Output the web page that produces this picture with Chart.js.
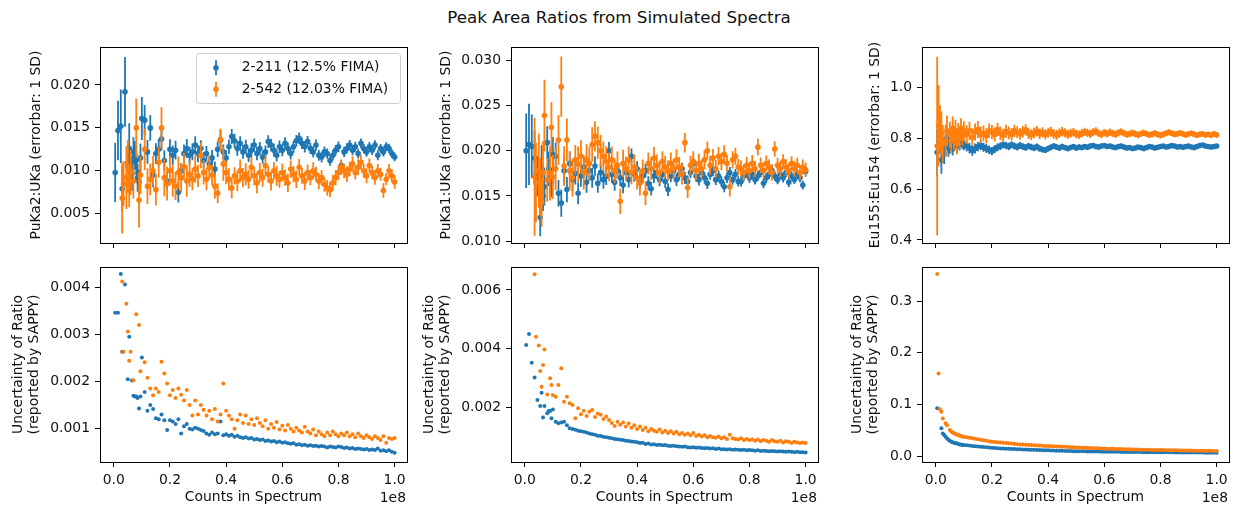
<!DOCTYPE html>
<html>
<head>
<meta charset="utf-8">
<script src="https://cdn.jsdelivr.net/npm/chart.js@4.4.1/dist/chart.umd.min.js"></script>
<style>
  html, body { margin: 0; padding: 0; background: #fff; }
  body { width: 1233px; height: 506px; position: relative; overflow: hidden; font-family: 'DejaVu Sans', sans-serif; }
  canvas { position: absolute; }
  #title { position: absolute; top: 7px; left: 0; width: 1238px; text-align: center; font-size: 16.7px; line-height: 20px; color: #111; }
</style>
</head>
<body>
<div id="title">Peak Area Ratios from Simulated Spectra</div>
<canvas id="p1t"></canvas>
<canvas id="p2t"></canvas>
<canvas id="p3t"></canvas>
<canvas id="p1b"></canvas>
<canvas id="p2b"></canvas>
<canvas id="p3b"></canvas>
<script>
// counts in spectrum, in millions
const countsM = [
  0.5, 1, 1.5, 2, 2.5, 3, 3.5, 4, 4.5, 5,
  5.5, 6, 6.5, 7, 7.5, 8, 8.5, 9, 9.5, 10,
  11, 12, 13, 14, 15, 16, 17, 18, 19, 20,
  21, 22, 23, 24, 25, 26, 27, 28, 29, 30,
  31, 32, 33, 34, 35, 36, 37, 38, 39, 40,
  41, 42, 43, 44, 45, 46, 47, 48, 49, 50,
  51, 52, 53, 54, 55, 56, 57, 58, 59, 60,
  61, 62, 63, 64, 65, 66, 67, 68, 69, 70,
  71, 72, 73, 74, 75, 76, 77, 78, 79, 80,
  81, 82, 83, 84, 85, 86, 87, 88, 89, 90,
  91, 92, 93, 94, 95, 96, 97, 98, 99, 100
];

const seriesLabels = ['2-211 (12.5% FIMA)', '2-542 (12.03% FIMA)'];

// PuKa2:UKa
const puKa2BlueRatio = [
  0.0098, null, 0.0147, null, 0.0152, 0.0079, null, 0.0192, null, 0.0109,
  0.0126, null, 0.0097, 0.0122, 0.0118, 0.0112, 0.0092, 0.0087, 0.0115, 0.0161,
  0.0159, 0.0122, 0.0150, 0.0095, 0.0120, 0.0125, 0.0137, 0.0112, 0.0088, 0.0125,
  0.0118, 0.0124, 0.0075, 0.0100, 0.0120, 0.0126, 0.0118, 0.0122, 0.0130, 0.0120,
  0.0126, 0.0112, 0.0120, 0.0108, 0.0115, 0.0102, 0.0125, 0.0136, 0.0122, 0.0115,
  0.0128, 0.0140, 0.0135, 0.0126, 0.0132, 0.0122, 0.0128, 0.0118, 0.0124, 0.0130,
  0.0120, 0.0126, 0.0116, 0.0122, 0.0134, 0.0130, 0.0124, 0.0118, 0.0128, 0.0124,
  0.0132, 0.0126, 0.0120, 0.0128, 0.0135, 0.0138, 0.0132, 0.0128, 0.0134, 0.0126,
  0.0122, 0.0130, 0.0118, 0.0116, 0.0122, 0.0120, 0.0112, 0.0118, 0.0124, 0.0128,
  0.0106, 0.0122, 0.0126, 0.0130, 0.0124, 0.0128, 0.0120, 0.0132, 0.0126, 0.0122,
  0.0128, 0.0124, 0.0130, 0.0118, 0.0126, 0.0122, 0.0128, 0.0126, 0.0120, 0.0116
];
const puKa2BlueUnc = [
  0.00346, null, 0.00346, null, 0.00428, 0.00263, null, 0.00406, null, 0.00205,
  0.00295, null, 0.00202, 0.00170, 0.00168, 0.00168, 0.00165, 0.00143, 0.00168, 0.00251,
  0.00178, 0.00138, 0.00150, 0.00142, 0.00122, 0.00120, 0.00130, 0.00118, 0.00097, 0.00118,
  0.00115, 0.00110, 0.00120, 0.00090, 0.00105, 0.00110, 0.00100, 0.00098, 0.00102, 0.00100,
  0.00097, 0.00095, 0.00090, 0.00087, 0.00092, 0.00088, 0.00090, 0.00115, 0.00086, 0.00088,
  0.00085, 0.00087, 0.00083, 0.00085, 0.00082, 0.00080, 0.00082, 0.00079, 0.00080, 0.00077,
  0.00078, 0.00076, 0.00077, 0.00074, 0.00075, 0.00073, 0.00074, 0.00071, 0.00073, 0.00070,
  0.00071, 0.00069, 0.00068, 0.00069, 0.00066, 0.00067, 0.00065, 0.00066, 0.00064, 0.00065,
  0.00063, 0.00064, 0.00062, 0.00063, 0.00062, 0.00060, 0.00062, 0.00061, 0.00060, 0.00062,
  0.00061, 0.00059, 0.00060, 0.00058, 0.00059, 0.00057, 0.00058, 0.00057, 0.00056, 0.00057,
  0.00055, 0.00056, 0.00055, 0.00058, 0.00053, 0.00054, 0.00052, 0.00054, 0.00051, 0.00049
];
const puKa2OrangeRatio = [
  null, null, null, null, null, 0.0068, 0.0085, null, 0.0092, 0.0105,
  0.0082, 0.0098, null, 0.0088, null, 0.0150, null, 0.0066, 0.0095, null,
  0.0125, 0.0082, 0.0090, 0.0100, 0.0078, 0.0110, 0.0150, 0.0092, 0.0085, 0.0100,
  0.0088, 0.0082, 0.0098, 0.0092, 0.0105, 0.0088, 0.0096, 0.0090, 0.0102, 0.0094,
  0.0118, 0.0098, 0.0090, 0.0104, 0.0095, 0.0082, 0.0074, 0.0136, 0.0108, 0.0098,
  0.0090, 0.0080, 0.0094, 0.0088, 0.0100, 0.0092, 0.0096, 0.0090, 0.0104, 0.0094,
  0.0086, 0.0098, 0.0092, 0.0106, 0.0096, 0.0088, 0.0100, 0.0094, 0.0090, 0.0098,
  0.0092, 0.0086, 0.0102, 0.0096, 0.0090, 0.0104, 0.0094, 0.0088, 0.0098, 0.0092,
  0.0100, 0.0096, 0.0088, 0.0092, 0.0084, 0.0080, 0.0078, 0.0086, 0.0092, 0.0098,
  0.0104, 0.0100, 0.0096, 0.0102, 0.0108, 0.0098, 0.0104, 0.0110, 0.0100, 0.0094,
  0.0106, 0.0098, 0.0092, 0.0100, 0.0096, 0.0077, 0.0090, 0.0100, 0.0094, 0.0087
];
const puKa2OrangeUnc = [
  null, null, null, null, null, 0.00412, 0.00263, null, 0.00365, 0.00306,
  0.00244, 0.00263, null, 0.00203, null, 0.00343, null, 0.00320, 0.00222, null,
  0.00241, 0.00208, 0.00185, 0.00171, 0.00185, 0.00178, 0.00242, 0.00217, 0.00196, 0.00171,
  0.00182, 0.00165, 0.00185, 0.00172, 0.00160, 0.00182, 0.00150, 0.00128, 0.00160, 0.00130,
  0.00150, 0.00140, 0.00128, 0.00138, 0.00120, 0.00142, 0.00115, 0.00130, 0.00196, 0.00138,
  0.00128, 0.00120, 0.00100, 0.00118, 0.00130, 0.00112, 0.00128, 0.00110, 0.00120, 0.00108,
  0.00122, 0.00112, 0.00105, 0.00118, 0.00100, 0.00110, 0.00102, 0.00114, 0.00098, 0.00106,
  0.00096, 0.00108, 0.00100, 0.00094, 0.00102, 0.00096, 0.00092, 0.00104, 0.00094, 0.00090,
  0.00098, 0.00086, 0.00094, 0.00088, 0.00084, 0.00092, 0.00086, 0.00094, 0.00088, 0.00084,
  0.00090, 0.00086, 0.00092, 0.00084, 0.00088, 0.00082, 0.00090, 0.00084, 0.00080, 0.00086,
  0.00082, 0.00078, 0.00084, 0.00080, 0.00076, 0.00084, 0.00070, 0.00080, 0.00078, 0.00080
];

// PuKa1:UKa
const puKa1BlueRatio = [
  0.0200, null, 0.0207, null, 0.0205, null, 0.0192, null, 0.0172, null,
  0.0126, 0.0181, 0.0150, 0.0160, null, 0.0209, 0.0180, 0.0171, 0.0165, 0.0196,
  0.0194, 0.0153, 0.0142, 0.0178, 0.0157, 0.0186, 0.0168, 0.0175, 0.0153, 0.0172,
  0.0182, 0.0165, 0.0178, 0.0170, 0.0183, 0.0164, 0.0176, 0.0168, 0.0172, 0.0200,
  0.0174, 0.0165, 0.0178, 0.0170, 0.0162, 0.0176, 0.0168, 0.0194, 0.0174, 0.0180,
  0.0166, 0.0172, 0.0178, 0.0164, 0.0158, 0.0172, 0.0176, 0.0168, 0.0174, 0.0166,
  0.0157, 0.0172, 0.0178, 0.0168, 0.0174, 0.0180, 0.0170, 0.0166, 0.0176, 0.0186,
  0.0172, 0.0168, 0.0176, 0.0170, 0.0164, 0.0174, 0.0178, 0.0168, 0.0172, 0.0166,
  0.0160, 0.0170, 0.0176, 0.0168, 0.0174, 0.0166, 0.0166, 0.0172, 0.0176, 0.0170,
  0.0174, 0.0168, 0.0172, 0.0176, 0.0164, 0.0170, 0.0174, 0.0178, 0.0172, 0.0168,
  0.0174, 0.0170, 0.0176, 0.0165, 0.0172, 0.0168, 0.0174, 0.0170, 0.0162, 0.0177
];
const puKa1BlueUnc = [
  0.00413, null, 0.00450, null, 0.00353, null, 0.00303, null, 0.00226, null,
  0.00206, 0.00251, 0.00167, 0.00206, null, 0.00181, 0.00189, 0.00189, 0.00164, 0.00194,
  0.00152, 0.00147, 0.00150, 0.00152, 0.00140, 0.00130, 0.00128, 0.00125, 0.00122, 0.00120,
  0.00118, 0.00116, 0.00112, 0.00110, 0.00108, 0.00105, 0.00104, 0.00101, 0.00100, 0.00098,
  0.00096, 0.00094, 0.00093, 0.00091, 0.00090, 0.00088, 0.00087, 0.00085, 0.00084, 0.00083,
  0.00080, 0.00081, 0.00077, 0.00078, 0.00075, 0.00076, 0.00073, 0.00074, 0.00072, 0.00073,
  0.00071, 0.00070, 0.00071, 0.00069, 0.00068, 0.00067, 0.00068, 0.00066, 0.00065, 0.00066,
  0.00064, 0.00065, 0.00063, 0.00062, 0.00063, 0.00061, 0.00062, 0.00060, 0.00061, 0.00059,
  0.00059, 0.00058, 0.00059, 0.00057, 0.00058, 0.00057, 0.00056, 0.00057, 0.00055, 0.00056,
  0.00055, 0.00054, 0.00055, 0.00053, 0.00054, 0.00053, 0.00052, 0.00053, 0.00052, 0.00051,
  0.00052, 0.00051, 0.00050, 0.00051, 0.00050, 0.00049, 0.00050, 0.00049, 0.00049, 0.00048
];
const puKa1OrangeRatio = [
  null, null, null, null, null, null, 0.0171, 0.0165, null, 0.0178,
  0.0160, 0.0143, 0.0176, 0.0239, null, 0.0168, null, 0.0175, 0.0226, 0.0171,
  0.0180, 0.0212, 0.0271, 0.0183, 0.0212, 0.0178, 0.0170, 0.0190, 0.0185, 0.0194,
  0.0176, 0.0190, 0.0186, 0.0207, 0.0216, 0.0209, 0.0200, 0.0194, 0.0188, 0.0182,
  0.0190, 0.0178, 0.0184, 0.0144, 0.0186, 0.0180, 0.0190, 0.0176, 0.0182, 0.0170,
  0.0164, 0.0178, 0.0153, 0.0186, 0.0180, 0.0192, 0.0184, 0.0176, 0.0188, 0.0182,
  0.0178, 0.0186, 0.0180, 0.0190, 0.0182, 0.0174, 0.0209, 0.0159, 0.0184, 0.0188,
  0.0178, 0.0186, 0.0180, 0.0190, 0.0200, 0.0184, 0.0192, 0.0180, 0.0194, 0.0188,
  0.0196, 0.0186, 0.0160, 0.0190, 0.0194, 0.0182, 0.0180, 0.0176, 0.0184, 0.0178,
  0.0186, 0.0180, 0.0204, 0.0184, 0.0178, 0.0186, 0.0182, 0.0176, 0.0202, 0.0184,
  0.0180, 0.0188, 0.0182, 0.0178, 0.0186, 0.0180, 0.0184, 0.0176, 0.0182, 0.0179
];
const puKa1OrangeUnc = [
  null, null, null, null, null, null, 0.00653, 0.00441, null, 0.00411,
  0.00325, 0.00271, 0.00345, 0.00398, null, 0.00245, null, 0.00300, 0.00277, 0.00243,
  0.00237, 0.00277, 0.00334, 0.00220, 0.00237, 0.00215, 0.00209, 0.00164, 0.00198, 0.00178,
  0.00190, 0.00172, 0.00186, 0.00192, 0.00168, 0.00180, 0.00176, 0.00162, 0.00170, 0.00158,
  0.00148, 0.00138, 0.00152, 0.00142, 0.00150, 0.00136, 0.00146, 0.00132, 0.00140, 0.00128,
  0.00136, 0.00124, 0.00132, 0.00120, 0.00128, 0.00122, 0.00118, 0.00126, 0.00116, 0.00122,
  0.00114, 0.00120, 0.00112, 0.00118, 0.00110, 0.00114, 0.00108, 0.00112, 0.00106, 0.00114,
  0.00104, 0.00108, 0.00102, 0.00106, 0.00100, 0.00104, 0.00100, 0.00098, 0.00102, 0.00096,
  0.00100, 0.00094, 0.00108, 0.00096, 0.00094, 0.00092, 0.00096, 0.00090, 0.00094, 0.00090,
  0.00092, 0.00088, 0.00092, 0.00086, 0.00090, 0.00088, 0.00084, 0.00090, 0.00086, 0.00084,
  0.00088, 0.00082, 0.00086, 0.00084, 0.00080, 0.00084, 0.00082, 0.00080, 0.00082, 0.00080
];

// Eu155:Eu154
const euBlueRatio = [
  0.745, null, null, 0.715, 0.750, 0.740, 0.795, 0.800, 0.760, 0.770,
  0.780, 0.760, 0.775, 0.790, 0.770, 0.785, 0.775, 0.790, 0.780, 0.775,
  0.770, 0.762, 0.752, 0.760, 0.768, 0.772, 0.765, 0.760, 0.755, 0.750,
  0.758, 0.765, 0.770, 0.775, 0.772, 0.768, 0.775, 0.770, 0.766, 0.772,
  0.768, 0.764, 0.770, 0.766, 0.762, 0.768, 0.760, 0.756, 0.754, 0.760,
  0.765, 0.770, 0.766, 0.762, 0.768, 0.764, 0.760, 0.764, 0.768, 0.762,
  0.766, 0.764, 0.768, 0.765, 0.770, 0.772, 0.768, 0.766, 0.770, 0.772,
  0.768, 0.770, 0.766, 0.764, 0.768, 0.770, 0.766, 0.762, 0.764, 0.760,
  0.762, 0.766, 0.764, 0.760, 0.764, 0.768, 0.766, 0.762, 0.765, 0.768,
  0.770, 0.766, 0.768, 0.772, 0.770, 0.766, 0.768, 0.765, 0.768, 0.770,
  0.766, 0.764, 0.768, 0.772, 0.774, 0.770, 0.768, 0.766, 0.768, 0.770
];
const euBlueUnc = [
  0.093, null, null, 0.054, 0.044, 0.041, 0.038, 0.035, 0.032, 0.030,
  0.028, 0.027, 0.026, 0.025, 0.025, 0.024, 0.023, 0.023, 0.022, 0.022,
  0.0215, 0.021, 0.020, 0.0195, 0.019, 0.0185, 0.018, 0.0175, 0.017, 0.0165,
  0.016, 0.0157, 0.0153, 0.015, 0.0147, 0.0144, 0.0141, 0.0139, 0.0137, 0.0135,
  0.0133, 0.0131, 0.0129, 0.0127, 0.0125, 0.0123, 0.0121, 0.0119, 0.0117, 0.0115,
  0.0113, 0.0111, 0.0109, 0.0107, 0.0105, 0.0104, 0.0102, 0.0101, 0.0100, 0.0099,
  0.0098, 0.0097, 0.0096, 0.0095, 0.0094, 0.0093, 0.0092, 0.0091, 0.0090, 0.0089,
  0.0088, 0.0088, 0.0087, 0.0086, 0.0086, 0.0085, 0.0084, 0.0084, 0.0083, 0.0082,
  0.0082, 0.0081, 0.0081, 0.0080, 0.0080, 0.0079, 0.0079, 0.0078, 0.0078, 0.0077,
  0.0077, 0.0076, 0.0076, 0.0076, 0.0075, 0.0075, 0.0074, 0.0074, 0.0074, 0.0073,
  0.0073, 0.0073, 0.0072, 0.0072, 0.0072, 0.0071, 0.0071, 0.0071, 0.0070, 0.0070
];
const euOrangeRatio = [
  0.770, 0.850, 0.840, 0.820, 0.780, null, 0.790, 0.830, null, 0.815,
  0.790, 0.840, 0.800, 0.830, 0.780, 0.820, 0.800, 0.840, 0.810, 0.830,
  0.815, 0.830, 0.805, 0.825, 0.835, 0.815, 0.820, 0.810, 0.830, 0.825,
  0.815, 0.835, 0.820, 0.812, 0.828, 0.822, 0.816, 0.830, 0.824, 0.818,
  0.826, 0.834, 0.820, 0.814, 0.822, 0.828, 0.818, 0.824, 0.816, 0.822,
  0.826, 0.818, 0.814, 0.820, 0.826, 0.822, 0.816, 0.820, 0.824, 0.818,
  0.814, 0.820, 0.826, 0.822, 0.818, 0.824, 0.828, 0.820, 0.816, 0.822,
  0.818, 0.824, 0.820, 0.816, 0.822, 0.826, 0.820, 0.816, 0.818, 0.822,
  0.818, 0.814, 0.818, 0.822, 0.818, 0.814, 0.816, 0.820, 0.816, 0.812,
  0.816, 0.820, 0.824, 0.820, 0.816, 0.818, 0.822, 0.818, 0.814, 0.818,
  0.820, 0.816, 0.812, 0.816, 0.818, 0.814, 0.816, 0.812, 0.818, 0.814
];
const euOrangeUnc = [
  0.352, 0.160, 0.091, 0.086, 0.073, null, 0.064, 0.060, null, 0.051,
  0.048, 0.046, 0.045, 0.043, 0.042, 0.041, 0.040, 0.039, 0.038, 0.038,
  0.037, 0.036, 0.035, 0.034, 0.033, 0.032, 0.031, 0.030, 0.029, 0.028,
  0.0275, 0.027, 0.0265, 0.026, 0.0255, 0.025, 0.0245, 0.024, 0.0235, 0.023,
  0.0226, 0.0222, 0.0219, 0.0216, 0.0213, 0.021, 0.0207, 0.0204, 0.0201, 0.0198,
  0.0195, 0.0192, 0.019, 0.0188, 0.0186, 0.0183, 0.018, 0.0177, 0.0174, 0.0171,
  0.0168, 0.0166, 0.0164, 0.0162, 0.016, 0.0158, 0.0156, 0.0154, 0.0152, 0.015,
  0.0148, 0.0146, 0.0144, 0.0142, 0.014, 0.0139, 0.0137, 0.0136, 0.0134, 0.0133,
  0.0131, 0.013, 0.0128, 0.0127, 0.0126, 0.0125, 0.0124, 0.0123, 0.0122, 0.0121,
  0.012, 0.0119, 0.0118, 0.0117, 0.0116, 0.0115, 0.0114, 0.0113, 0.0112, 0.0111,
  0.011, 0.0109, 0.0109, 0.0108, 0.0107, 0.0106, 0.0105, 0.0105, 0.0104, 0.0103
];

// tick labels
const xTicks = [0, 0.2e8, 0.4e8, 0.6e8, 0.8e8, 1.0e8];
const puKa2Ticks = [0.005, 0.010, 0.015, 0.020];
const puKa1Ticks = [0.010, 0.015, 0.020, 0.025, 0.030];
const euTicks = [0.4, 0.6, 0.8, 1.0];
const puKa2UncTicks = [0.001, 0.002, 0.003, 0.004];
const puKa1UncTicks = [0.002, 0.004, 0.006];
const euUncTicks = [0.0, 0.1, 0.2, 0.3];

const BLUE = '#1f77b4';
const ORANGE = '#ff7f0e';
const colors = [BLUE, ORANGE];
const FONT = "'DejaVu Sans', sans-serif";
const TEXT = '#111';

Chart.defaults.font.family = FONT;
Chart.defaults.color = TEXT;

function ratioPoints(vals, uncs) {
    const out = [];
    countsM.forEach((c, i) => {
        if (vals[i] === null) return;
        out.push({x: c * 1e6, y: vals[i], e: uncs[i]});
    });
    return out;
}

function uncPoints(uncs) {
    const out = [];
    countsM.forEach((c, i) => {
        if (uncs[i] === null) return;
        out.push({x: c * 1e6, y: uncs[i]});
    });
    return out;
}

// vertical error bars, drawn under each dataset's markers
const errorBars = {
    id: 'errorBars',
    beforeDatasetDraw(chart, args) {
        const ds = chart.data.datasets[args.index];
        if (!ds.showErrors) return;
        const {ctx, chartArea: a, scales: {x, y}} = chart;
        ctx.save();
        ctx.beginPath();
        ctx.rect(a.left, a.top, a.right - a.left, a.bottom - a.top);
        ctx.clip();
        ctx.strokeStyle = ds.backgroundColor;
        ctx.lineWidth = 1.8;
        ctx.beginPath();
        ds.data.forEach(p => {
            const px = x.getPixelForValue(p.x);
            ctx.moveTo(px, y.getPixelForValue(p.y - p.e));
            ctx.lineTo(px, y.getPixelForValue(p.y + p.e));
        });
        ctx.stroke();
        ctx.restore();
    }
};

const frame = {
    id: 'frame',
    afterDatasetsDraw(chart) {
        const {ctx, chartArea: a} = chart;
        ctx.save();
        ctx.strokeStyle = '#000';
        ctx.lineWidth = 1;
        ctx.strokeRect(a.left + 0.5, a.top + 0.5, a.right - a.left, a.bottom - a.top);
        ctx.restore();
    }
};

const offsetText = {
    id: 'offsetText',
    afterDraw(chart) {
        const {ctx, chartArea: a} = chart;
        ctx.save();
        ctx.fillStyle = TEXT;
        ctx.font = '13.9px ' + FONT;
        ctx.textAlign = 'right';
        ctx.textBaseline = 'middle';
        ctx.fillText('1e8', a.right - 1, chart.height - 8);
        ctx.restore();
    }
};

const legendBox = {
    id: 'legendBox',
    afterDraw(chart) {
        const {ctx, chartArea: a} = chart;
        const w = 204, h = 50;
        const bx = a.right - 7 - w, by = a.top + 6;
        ctx.save();
        ctx.beginPath();
        if (ctx.roundRect) ctx.roundRect(bx + 0.5, by + 0.5, w, h, 3);
        else ctx.rect(bx + 0.5, by + 0.5, w, h);
        ctx.fillStyle = 'rgba(255,255,255,0.8)';
        ctx.fill();
        ctx.strokeStyle = '#cccccc';
        ctx.lineWidth = 1;
        ctx.stroke();
        seriesLabels.forEach((label, i) => {
            const cx = bx + 20, cy = by + 14.7 + i * 21.6;
            ctx.strokeStyle = colors[i];
            ctx.lineWidth = 1.8;
            ctx.beginPath();
            ctx.moveTo(cx, cy - 7.5);
            ctx.lineTo(cx, cy + 7.5);
            ctx.stroke();
            ctx.fillStyle = colors[i];
            ctx.beginPath();
            ctx.arc(cx, cy, 2.8, 0, Math.PI * 2);
            ctx.fill();
            ctx.fillStyle = TEXT;
            ctx.font = '13.9px ' + FONT;
            ctx.textAlign = 'left';
            ctx.textBaseline = 'middle';
            ctx.fillText(label, bx + 45.7, cy);
        });
        ctx.restore();
    }
};

const PAD_TOP = 15, PAD_RIGHT = 4, Y_AREA = 100;
const X_MIN = -4.9e6, X_MAX = 104.4e6;

function makePanel(p) {
    const canvas = document.getElementById(p.id);
    const xArea = p.bottomRow ? 44 : 16;
    const w = Y_AREA + 307 + PAD_RIGHT;
    const h = PAD_TOP + p.frameH + xArea;
    canvas.width = w;
    canvas.height = h;
    canvas.style.left = p.left + 'px';
    canvas.style.top = (p.frameTop - PAD_TOP) + 'px';

    let datasets;
    if (p.bottomRow) {
        datasets = p.uncs.map((u, i) => ({
            data: uncPoints(u),
            backgroundColor: colors[i],
            borderColor: colors[i],
            pointRadius: 2,
            pointBorderWidth: 0,
            order: 2 - i,
            clip: 0
        }));
    } else {
        datasets = p.ratios.map((r, i) => ({
            data: ratioPoints(r, p.uncs[i]),
            backgroundColor: colors[i],
            borderColor: colors[i],
            pointRadius: 2.8,
            pointBorderWidth: 0,
            showErrors: true,
            order: 2 - i,
            clip: 0
        }));
    }

    const plugins = [errorBars, frame];
    if (p.bottomRow) plugins.push(offsetText);
    if (p.legend) plugins.push(legendBox);

    new Chart(canvas, {
        type: 'scatter',
        data: {datasets},
        plugins,
        options: {
            responsive: false,
            animation: false,
            devicePixelRatio: 1,
            layout: {padding: {top: PAD_TOP, right: PAD_RIGHT, left: 0, bottom: 0}},
            plugins: {legend: {display: false}, tooltip: {enabled: false}},
            scales: {
                x: {
                    type: 'linear',
                    min: X_MIN,
                    max: X_MAX,
                    afterBuildTicks: s => { s.ticks = xTicks.map(v => ({value: v})); },
                    afterFit: s => { s.height = xArea; },
                    grid: {drawOnChartArea: false, drawTicks: true, tickLength: 5, color: '#000', lineWidth: 1},
                    border: {display: false},
                    ticks: {
                        display: p.bottomRow,
                        autoSkip: false,
                        maxRotation: 0,
                        padding: 5,
                        color: TEXT,
                        font: {family: FONT, size: 13.9},
                        callback: v => (v / 1e8).toFixed(1)
                    },
                    title: {
                        display: p.bottomRow,
                        text: 'Counts in Spectrum',
                        color: TEXT,
                        font: {family: FONT, size: 13.9, lineHeight: 1.2},
                        padding: {top: 0, bottom: 0}
                    }
                },
                y: {
                    type: 'linear',
                    min: p.yMin,
                    max: p.yMax,
                    afterBuildTicks: s => { s.ticks = p.yTicks.map(v => ({value: v})); },
                    afterFit: s => { s.width = Y_AREA; },
                    grid: {drawOnChartArea: false, drawTicks: true, tickLength: 5, color: '#000', lineWidth: 1},
                    border: {display: false},
                    ticks: {
                        padding: 5,
                        color: TEXT,
                        font: {family: FONT, size: 13.9},
                        callback: v => v.toFixed(p.dec)
                    },
                    title: {
                        display: true,
                        text: p.yTitle,
                        color: TEXT,
                        font: {family: FONT, size: 13.9, lineHeight: 1.2},
                        padding: {top: p.titlePad, bottom: 0}
                    }
                }
            }
        }
    });
}

const uncTitle = ['Uncertainty of Ratio', '(reported by SAPPY)'];

makePanel({id: 'p1t', left: 0, frameTop: 47, frameH: 196, bottomRow: false, legend: true,
    ratios: [puKa2BlueRatio, puKa2OrangeRatio], uncs: [puKa2BlueUnc, puKa2OrangeUnc],
    yMin: 0.00158, yMax: 0.02443, yTicks: puKa2Ticks, dec: 3,
    yTitle: 'PuKa2:UKa (errorbar: 1 SD)', titlePad: 27.7});
makePanel({id: 'p2t', left: 411, frameTop: 47, frameH: 196, bottomRow: false,
    ratios: [puKa1BlueRatio, puKa1OrangeRatio], uncs: [puKa1BlueUnc, puKa1OrangeUnc],
    yMin: 0.00978, yMax: 0.0315, yTicks: puKa1Ticks, dec: 3,
    yTitle: 'PuKa1:UKa (errorbar: 1 SD)', titlePad: 26.7});
makePanel({id: 'p3t', left: 822, frameTop: 47, frameH: 196, bottomRow: false,
    ratios: [euBlueRatio, euOrangeRatio], uncs: [euBlueUnc, euOrangeUnc],
    yMin: 0.388, yMax: 1.16, yTicks: euTicks, dec: 1,
    yTitle: 'Eu155:Eu154 (errorbar: 1 SD)', titlePad: 44.7});
makePanel({id: 'p1b', left: 0, frameTop: 267, frameH: 195, bottomRow: true,
    uncs: [puKa2BlueUnc, puKa2OrangeUnc],
    yMin: 0.000293, yMax: 0.00443, yTicks: puKa2UncTicks, dec: 3,
    yTitle: uncTitle, titlePad: 9.7});
makePanel({id: 'p2b', left: 411, frameTop: 267, frameH: 195, bottomRow: true,
    uncs: [puKa1BlueUnc, puKa1OrangeUnc],
    yMin: 0.000155, yMax: 0.00678, yTicks: puKa1UncTicks, dec: 3,
    yTitle: uncTitle, titlePad: 9.7});
makePanel({id: 'p3b', left: 822, frameTop: 267, frameH: 195, bottomRow: true,
    uncs: [euBlueUnc, euOrangeUnc],
    yMin: -0.011, yMax: 0.3657, yTicks: euUncTicks, dec: 1,
    yTitle: uncTitle, titlePad: 26.7});
</script>
</body>
</html>
